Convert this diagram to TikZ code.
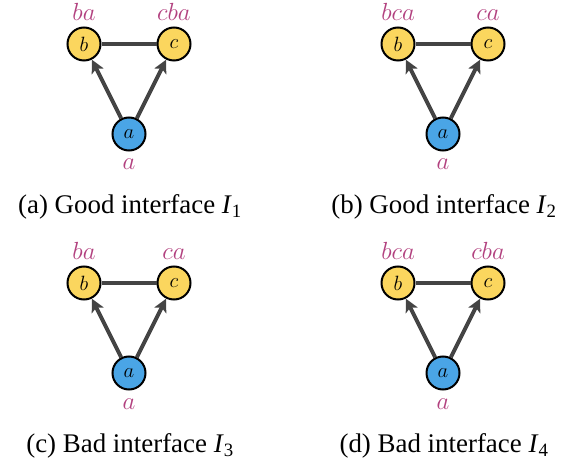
\documentclass[tikz,border=0pt]{standalone}
\usepackage[no-math]{fontspec}
\setmainfont{Liberation Serif}
\usetikzlibrary{arrows.meta}
\definecolor{nyellow}{HTML}{FBD65E}
\definecolor{nblue}{HTML}{4AA5E6}
\definecolor{lblmag}{HTML}{B2417F}
\definecolor{edgegray}{HTML}{444444}
\tikzset{
  vtx/.style={circle, draw=black, line width=2bp, minimum size=33bp, inner sep=0pt,
    font=\fontsize{20}{24}\selectfont},
  yv/.style={vtx, fill=nyellow},
  bv/.style={vtx, fill=nblue},
  lbl/.style={text=lblmag, font=\fontsize{25}{29}\selectfont, inner sep=0pt},
  edg/.style={draw=edgegray, line width=4bp},
  arr/.style={edg, -{Stealth[length=13bp,width=13bp,inset=3bp]}},
  captext/.style={font=\fontsize{27}{32}\selectfont, inner sep=0pt},
}
\newcommand{\mypanel}[6]{%
  \begin{scope}[shift={(#2,#3)}]
    \node[yv] (b#1) at (84,44) {$b$};
    \node[yv] (c#1) at (174,44) {$c$};
    \node[bv] (a#1) at (129,134) {$a$};
    \draw[edg] (b#1) -- (c#1);
    \draw[arr] (a#1) -- (b#1);
    \draw[arr] (a#1) -- (c#1);
    \node[lbl, anchor=base] (lb#1) at (84,21) {$#4$};
    \node[lbl, anchor=base] (lc#1) at (174,21) {$#5$};
    \node[lbl, anchor=base] (la#1) at (129,170) {$a$};
    \node[captext] (cap#1) at (130,207) {#6};
  \end{scope}}
\begin{document}
\begin{tikzpicture}[x=1bp,y=-1bp]
\useasboundingbox (0,0) rectangle (576,466);
\mypanel{1}{0}{0}{ba}{cba}{(a) Good interface \textit{I}\textsubscript{1}}
\mypanel{2}{314}{0}{bca}{ca}{(b) Good interface \textit{I}\textsubscript{2}}
\mypanel{3}{0}{239}{ba}{ca}{(c) Bad interface \textit{I}\textsubscript{3}}
\mypanel{4}{314}{239}{bca}{cba}{(d) Bad interface \textit{I}\textsubscript{4}}
\end{tikzpicture}
\end{document}
